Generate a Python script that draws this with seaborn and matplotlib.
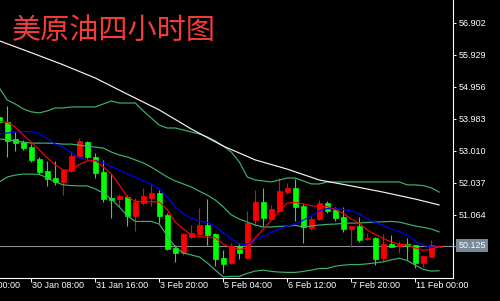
import numpy as np
import pandas as pd
import matplotlib
matplotlib.use("Agg")
import matplotlib.pyplot as plt
import matplotlib.transforms as mtransforms
import seaborn as sns

# ---------------- data ----------------
title = "美原油四小时图"

opens = [54.04, 53.87, 53.36, 53.28, 53.13, 52.75, 52.39, 52.17, 52.07, 52.39,
         52.86, 53.28, 52.83, 52.37, 51.57, 51.53, 51.59, 51.03, 51.43, 51.58,
         51.73, 51.06, 50.04, 49.89, 50.40, 50.48, 50.75, 50.47, 49.76, 49.59,
         50.11, 49.74, 50.90, 51.46, 50.92, 51.19, 51.76, 51.88, 51.33, 50.65,
         50.93, 51.43, 51.21, 50.99, 50.63, 50.72, 50.32, 50.37, 49.74, 50.16,
         50.11, 50.17, 50.14, 49.59, 49.79, 50.08]
highs = [54.16, 54.37, 53.59, 53.34, 53.20, 52.83, 52.71, 52.70, 52.42, 53.01,
         53.39, 53.31, 52.93, 52.73, 52.29, 51.69, 51.66, 51.57, 51.87, 51.97,
         51.82, 51.11, 50.14, 50.50, 50.75, 51.26, 51.53, 50.50, 49.99, 50.20,
         50.20, 51.19, 51.82, 51.87, 51.36, 52.17, 52.04, 52.14, 51.39, 51.06,
         51.51, 51.48, 51.31, 51.31, 50.73, 51.00, 50.50, 50.40, 50.47, 50.45,
         50.27, 50.35, 50.14, 49.82, 50.30, 50.14]
lows = [53.82, 52.81, 53.01, 53.03, 52.68, 52.30, 51.94, 51.97, 51.66, 52.37,
        52.83, 52.75, 52.17, 51.46, 50.97, 51.31, 50.72, 50.58, 51.36, 51.33,
        50.80, 49.99, 49.64, 49.84, 50.35, 50.45, 50.14, 49.50, 49.30, 49.57,
        49.71, 49.71, 50.72, 50.72, 50.90, 51.16, 51.68, 50.88, 50.21, 50.60,
        50.90, 51.13, 50.88, 50.55, 50.09, 50.24, 50.30, 49.54, 49.67, 50.09,
        49.89, 49.69, 49.44, 49.48, 49.77, 50.07]
closes = [53.89, 53.31, 53.23, 53.08, 52.73, 52.36, 52.14, 52.07, 52.42, 52.86,
          53.31, 52.81, 52.34, 51.54, 51.51, 51.63, 51.03, 51.46, 51.63, 51.73,
          51.03, 50.01, 49.89, 50.48, 50.50, 50.75, 50.45, 49.72, 49.57, 50.11,
          49.91, 50.80, 51.46, 50.95, 51.23, 51.79, 51.88, 51.31, 50.68, 50.93,
          51.43, 51.18, 50.95, 50.63, 50.73, 50.30, 50.37, 49.72, 50.17, 50.09,
          50.17, 50.11, 49.59, 49.82, 50.14, 50.125]

ma_fast = [53.91, 53.87, 53.73, 53.49, 53.27, 53.03, 52.79, 52.58, 52.42, 52.42,
           52.59, 52.70, 52.71, 52.52, 52.30, 51.97, 51.60, 51.47, 51.46, 51.46,
           51.45, 51.21, 50.84, 50.63, 50.45, 50.39, 50.39, 50.36, 50.17, 50.05,
           50.01, 50.05, 50.36, 50.63, 50.89, 51.18, 51.42, 51.44, 51.39, 51.34,
           51.31, 51.31, 51.22, 51.10, 50.93, 50.80, 50.60, 50.46, 50.34, 50.23,
           50.17, 50.14, 50.05, 49.98, 50.01, 50.10]
ma_mid = [53.52, 53.55, 53.58, 53.59, 53.59, 53.53, 53.38, 53.21, 53.12, 52.94,
          52.79, 52.73, 52.71, 52.65, 52.53, 52.42, 52.30, 52.20, 52.10, 51.99,
          51.85, 51.60, 51.30, 51.09, 50.96, 50.87, 50.83, 50.71, 50.51, 50.33,
          50.17, 50.17, 50.30, 50.40, 50.52, 50.63, 50.72, 50.78, 50.90, 51.02,
          51.18, 51.25, 51.25, 51.22, 51.18, 51.09, 50.93, 50.83, 50.74, 50.63,
          50.55, 50.45, 50.26, 50.13, 50.08, 50.08]
bb_upper = [54.92, 54.55, 54.43, 54.28, 54.19, 54.16, 54.22, 54.31, 54.31, 54.34,
            54.34, 54.34, 54.34, 54.43, 54.52, 54.46, 54.46, 54.46, 54.22, 54.00,
            53.79, 53.70, 53.70, 53.64, 53.58, 53.52, 53.43, 53.31, 53.15, 52.97,
            52.67, 52.21, 52.12, 52.09, 52.06, 52.12, 52.18, 52.18, 52.09, 52.00,
            52.00, 52.06, 52.06, 52.06, 52.06, 52.06, 52.06, 52.06, 52.06, 52.06,
            52.06, 51.97, 51.97, 51.95, 51.88, 51.75]
bb_middle = [53.37, 53.34, 53.31, 53.27, 53.24, 53.24, 53.24, 53.23, 53.21, 53.21,
             53.18, 53.14, 53.12, 53.09, 52.97, 52.88, 52.82, 52.73, 52.64, 52.51,
             52.36, 52.21, 52.09, 52.00, 51.91, 51.78, 51.66, 51.51, 51.30, 51.06,
             50.93, 50.84, 50.75, 50.69, 50.69, 50.71, 50.72, 50.74, 50.69, 50.72,
             50.75, 50.77, 50.78, 50.80, 50.81, 50.81, 50.83, 50.84, 50.85, 50.86,
             50.84, 50.78, 50.72, 50.68, 50.63, 50.54]
bb_lower = [52.06, 52.21, 52.27, 52.30, 52.30, 52.29, 52.18, 52.06, 51.97, 51.95,
            51.94, 51.94, 51.85, 51.72, 51.54, 51.30, 51.03, 50.86, 50.86, 50.86,
            50.78, 50.42, 50.08, 49.90, 49.84, 49.78, 49.60, 49.38, 49.17, 49.19,
            49.19, 49.28, 49.35, 49.38, 49.34, 49.32, 49.31, 49.31, 49.34, 49.38,
            49.43, 49.43, 49.50, 49.53, 49.55, 49.55, 49.57, 49.60, 49.63, 49.69,
            49.74, 49.67, 49.53, 49.40, 49.35, 49.36]
ma_slow_bars = [0, 4, 8, 12, 16, 20, 24, 28, 32, 36, 40, 44, 48, 52, 55]
ma_slow = [56.35, 55.99, 55.62, 55.22, 54.73, 54.25, 53.67, 53.15, 52.73, 52.45,
           52.12, 51.94, 51.75, 51.54, 51.36]

price_ticks = [56.902, 55.929, 54.956, 53.983, 53.010, 52.037, 51.064]
last_price = 50.125
time_tick_bars = [-4, 4, 12, 20, 28, 36, 44, 52]
time_tick_labels = ["29 Jan 00:00", "30 Jan 08:00", "31 Jan 16:00", "3 Feb 20:00",
                    "5 Feb 04:00", "6 Feb 12:00", "7 Feb 20:00", "11 Feb 00:00"]

# ---------------- style ----------------
sns.set_theme(style="dark", rc={"axes.facecolor": "black",
                                "figure.facecolor": "black",
                                "axes.grid": False})
plt.rcParams["font.family"] = ["Liberation Sans", "DejaVu Sans"]

W, H = 500, 301
fig = plt.figure(figsize=(W / 100, H / 100), dpi=100, facecolor="black")
ax = fig.add_axes([0, 23.3 / H, 453.3 / W, 277.7 / H])
ax.set_facecolor("black")

bars = np.arange(len(opens))
df = pd.DataFrame({"bar": bars, "open": opens, "high": highs,
                   "low": lows, "close": closes})
up = df["close"] >= df["open"]
cols = np.where(up, "#ff0000", "#00ff00")

# current price line
ax.axhline(last_price, color="#8c8f99", lw=0.8, zorder=1)

# candles
ax.vlines(df["bar"], df["low"], df["high"], colors=cols, lw=0.8, zorder=2)
ax.bar(df["bar"], (df["close"] - df["open"]).abs(),
       bottom=np.minimum(df["open"], df["close"]), width=0.62,
       color=cols, edgecolor=cols, linewidth=0.5, zorder=3)

# indicator lines
lines = pd.DataFrame({"bar": bars, "upper": bb_upper, "middle": bb_middle,
                      "lower": bb_lower, "fast": ma_fast, "mid": ma_mid})
for col, colr in [("upper", "#3cb371"), ("middle", "#3cb371"),
                  ("lower", "#3cb371"), ("mid", "#0000ff"), ("fast", "#ff0000")]:
    sns.lineplot(data=lines, x="bar", y=col, color=colr, lw=0.85, ax=ax,
                 zorder=4, legend=False)
sns.lineplot(x=ma_slow_bars, y=ma_slow, color="#fff0f0", lw=0.85, ax=ax,
             zorder=4, legend=False)

ax.set_xlim(0.0875, 56.75)
ax.set_ylim(49.149, 57.592)
ax.set_xlabel("")
ax.set_ylabel("")

for s in ["top", "left"]:
    ax.spines[s].set_visible(False)
for s in ["right", "bottom"]:
    ax.spines[s].set_color("white")
    ax.spines[s].set_linewidth(0.8)

# y axis on the right
ax.yaxis.tick_right()
ax.set_yticks(price_ticks)
ax.set_yticklabels([f"{v:.3f}" for v in price_ticks])
ax.tick_params(axis="y", colors="white", length=2.3, width=0.7, pad=1.3,
               labelsize=6.5, direction="out", right=True, left=False)

# x ticks (marks only) and labels drawn left-aligned at tick
vis_ticks = [b for b in time_tick_bars if 0.0875 <= b <= 56.75]
ax.set_xticks(vis_ticks)
ax.set_xticklabels([""] * len(vis_ticks))
ax.tick_params(axis="x", colors="white", length=3, width=0.7, direction="out",
               bottom=True)
xtrans = mtransforms.blended_transform_factory(ax.transData, ax.transAxes) + \
    mtransforms.ScaledTranslation(1.2 / 100, -3.6 / 100, fig.dpi_scale_trans)
for b, lab in zip(time_tick_bars, time_tick_labels):
    ax.text(b, 0, lab, transform=xtrans, ha="left", va="top", color="white",
            fontsize=6.5, clip_on=False)

# last price tag
ptrans = mtransforms.blended_transform_factory(ax.transAxes, ax.transData)
ax.plot([1.0, 1.008], [last_price, last_price], transform=ptrans,
        color="#8c8f99", lw=0.8, clip_on=False)
ax.text(1.0, last_price, f"{last_price:.3f}",
        transform=ptrans + mtransforms.ScaledTranslation(5 / 100, 0, fig.dpi_scale_trans),
        ha="left", va="center", color="white", fontsize=6.5, clip_on=False,
        bbox=dict(boxstyle="square,pad=0.2", fc="#778899", ec="none"))

# title
ax.text(12 / 453.3, 1 - 31 / 277.7, title, transform=ax.transAxes,
        ha="left", va="center", color="#f03c3c", fontsize=21,
        family=["Noto Sans CJK SC", "DejaVu Sans"], zorder=6)

fig.savefig("out.png", dpi=100, facecolor="black")
